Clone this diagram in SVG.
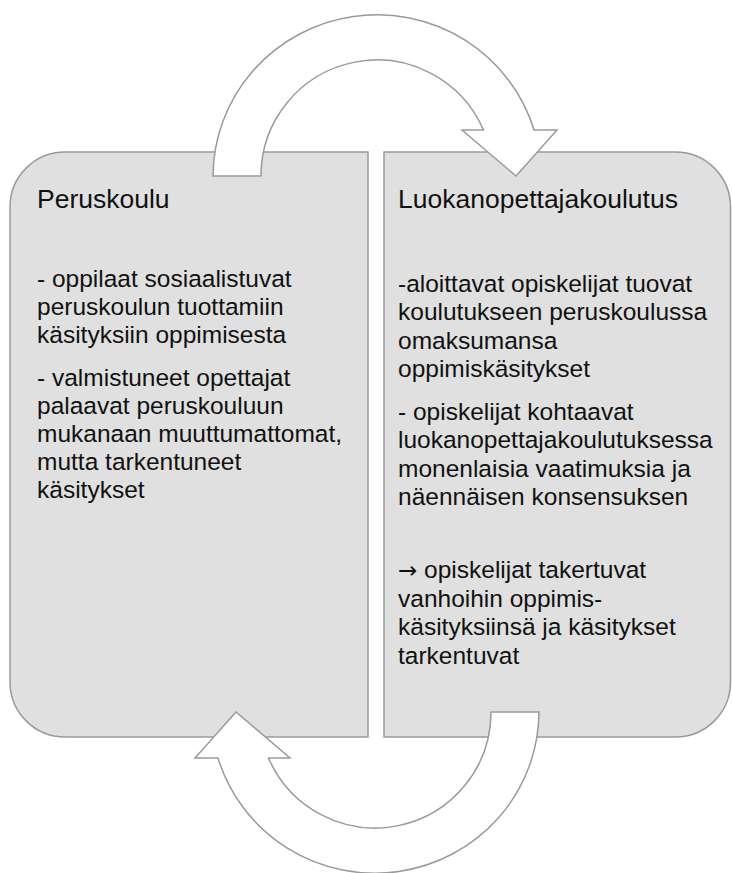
<svg xmlns="http://www.w3.org/2000/svg" width="732" height="873" viewBox="0 0 732 873">
<style>
.box{fill:#e0e0e0;stroke:#9a9a9a;stroke-width:1.5}
.arr{fill:#ffffff;stroke:#9a9a9a;stroke-width:1.5;stroke-linejoin:miter}
text{font-family:"Liberation Sans","DejaVu Sans",sans-serif;fill:#111111}
.title{font-size:26.5px}
.body{font-size:24.5px}
.sym{font-family:"DejaVu Sans",sans-serif;font-size:23px}
</style>
<rect width="732" height="873" fill="#ffffff"/>
<g id="node-peruskoulu">
<path class="box" d="M65 152 H368 V737 H65 A55 55 0 0 1 10 682 V207 A55 55 0 0 1 65 152 Z"/>
<text class="title" x="37" y="208">Peruskoulu</text>
<text class="body" x="37" y="287">- oppilaat sosiaalistuvat</text>
<text class="body" x="37" y="315">peruskoulun tuottamiin</text>
<text class="body" x="37" y="343">käsityksiin oppimisesta</text>
<text class="body" x="37" y="386">- valmistuneet opettajat</text>
<text class="body" x="37" y="414">palaavat peruskouluun</text>
<text class="body" x="37" y="442">mukanaan muuttumattomat,</text>
<text class="body" x="37" y="470">mutta tarkentuneet</text>
<text class="body" x="37" y="498">käsitykset</text>
</g>
<g id="node-luokanopettajakoulutus">
<path class="box" d="M384 152 H675.5 A55 55 0 0 1 730.5 207 V682 A55 55 0 0 1 675.5 737 H384 Z"/>
<text class="title" x="398" y="208">Luokanopettajakoulutus</text>
<text class="body" x="398" y="292">-aloittavat opiskelijat tuovat</text>
<text class="body" x="398" y="320">koulutukseen peruskoulussa</text>
<text class="body" x="398" y="349">omaksumansa</text>
<text class="body" x="398" y="377">oppimiskäsitykset</text>
<text class="body" x="398" y="420">- opiskelijat kohtaavat</text>
<text class="body" x="398" y="448">luokanopettajakoulutuksessa</text>
<text class="body" x="398" y="477">monenlaisia vaatimuksia ja</text>
<text class="body" x="398" y="505">näennäisen konsensuksen</text>
<text class="body" x="398" y="578"><tspan class="sym">→</tspan> opiskelijat takertuvat</text>
<text class="body" x="398" y="606.5">vanhoihin oppimis-</text>
<text class="body" x="398" y="635">käsityksiinsä ja käsitykset</text>
<text class="body" x="398" y="663.5">tarkentuvat</text>
</g>
<g id="connectors">
<path id="arrow-top" class="arr" d="M213 176 A164 162 0 0 1 534 130 L557 130 L516 176 L462 130 L483.5 130 A116 116 0 0 0 261 176 Z"/>
<path id="arrow-bottom" class="arr" transform="rotate(180 376 444)" d="M213 176 A164 162 0 0 1 534 130 L557 130 L516 176 L462 130 L483.5 130 A116 116 0 0 0 261 176 Z"/>
</g>
</svg>
